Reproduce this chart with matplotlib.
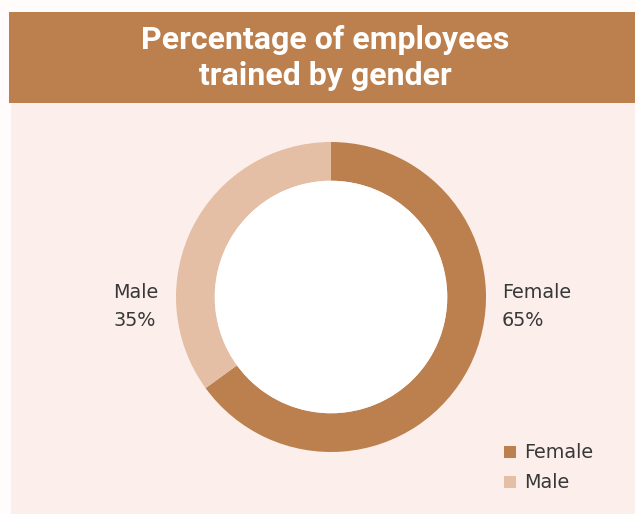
import matplotlib.pyplot as plt
from matplotlib.patches import Rectangle, Circle

labels = ['Female', 'Male']
values = [65, 35]
colors = ['#BC7F4E', '#E4BEA5']
title = 'Percentage of employees\ntrained by gender'

W, H = 635, 514
fig = plt.figure(figsize=(W / 100, H / 100), dpi=100)
fig.patch.set_facecolor('#FFFCFB')

# background panels (figure pixel coords -> fraction)
fig.patches.append(Rectangle((11 / W, 0), 1, (H - 103) / H, transform=fig.transFigure,
                             facecolor='#FCEFEB', edgecolor='none', zorder=-2))
fig.patches.append(Rectangle((9 / W, (H - 103) / H), 1, 91 / H, transform=fig.transFigure,
                             facecolor='#BC7F4E', edgecolor='none', zorder=-2))
fig.text(325 / W, 1 - 58 / H, title, ha='center', va='center', color='white',
         fontsize=23, fontweight='bold', family=['Roboto', 'DejaVu Sans'],
         linespacing=1.22)

# donut
cx, cy, r = 331, 297, 155
ax = fig.add_axes([(cx - r) / W, 1 - (cy + r) / H, 2 * r / W, 2 * r / H])
ax.patch.set_visible(False)
ax.pie(values, colors=colors, startangle=90, counterclock=False,
       wedgeprops=dict(width=0.25, edgecolor='none'))
ax.add_patch(Circle((0, 0), 0.75, facecolor='white', edgecolor='none'))
ax.set_aspect('equal')
ax.set_xlim(-1, 1)
ax.set_ylim(-1, 1)
ax.axis('off')

txt = dict(fontsize=13.8, color='#383838', family=['DejaVu Sans'], linespacing=1.6)
fig.text(502 / W, 1 - 306 / H, '%s\n%d%%' % (labels[0], values[0]), ha='left', va='center', **txt)
fig.text(113 / W, 1 - 306 / H, '%s\n%d%%' % (labels[1], values[1]), ha='left', va='center', **txt)

# legend
for i, (lab, c) in enumerate(zip(labels, colors)):
    y = 452 + i * 30
    fig.patches.append(Rectangle((504 / W, 1 - (y + 6) / H), 12 / W, 12 / H,
                                 transform=fig.transFigure, facecolor=c, edgecolor='none'))
    fig.text(524 / W, 1 - y / H, lab, ha='left', va='center', **txt)

fig.savefig('out.png', dpi=100, facecolor=fig.get_facecolor())
